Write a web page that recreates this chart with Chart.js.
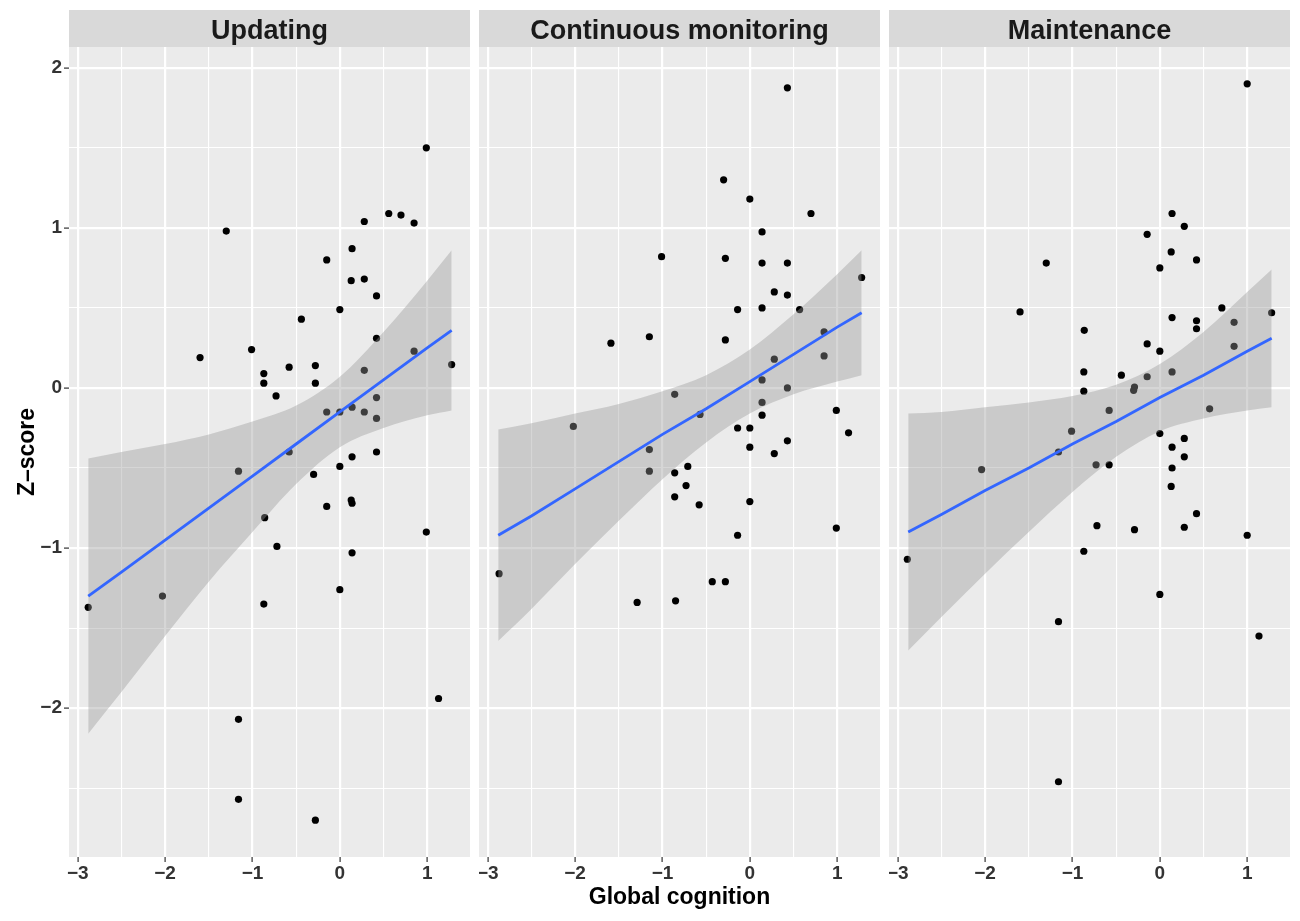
<!DOCTYPE html>
<html>
<head>
<meta charset="utf-8">
<title>Z-score by Global cognition</title>
<script src="https://cdn.jsdelivr.net/npm/chart.js@4.4.1/dist/chart.umd.min.js"></script>
<style>
  body { margin: 0; background: #fff; }
  #figure { position: relative; width: 1300px; height: 921px; }
  #figure canvas { position: absolute; top: 0; }
</style>
</head>
<body>
<div id="figure">
  <canvas id="panel1" width="470" height="921" style="left:0px"></canvas>
  <canvas id="panel2" width="401" height="921" style="left:479px"></canvas>
  <canvas id="panel3" width="401" height="921" style="left:889px"></canvas>
</div>
<script>
// Facet titles and axis ticks
const panelTitles = ['Updating', 'Continuous monitoring', 'Maintenance'];
const xMajorTicks = [-3, -2, -1, 0, 1];
const xMinorTicks = [-2.5, -1.5, -0.5, 0.5];
const yMajorTicks = [-2, -1, 0, 1, 2];
const yMinorTicks = [-2.5, -1.5, -0.5, 0.5, 1.5];
const xLimits = [-3.1, 1.49];
const yLimits = [-2.93, 2.13];

// Updating: global cognition (x) vs z-score (y)
const updatingX = [0.99, -1.30, 0.56, 0.70, 0.85, 0.28, 0.14, -0.15, 0.13, 0.28, 0.42, 0.00, -0.44, 0.42, -1.60, -1.01, 0.85, 1.28,
  -0.87, -0.87, -0.58, -0.28, -0.28, 0.28, -0.73, 0.42, -0.15, 0.00, 0.14, 0.28, 0.42, -0.58, 0.14, 0.42, -1.16, -0.30, 0.00,
  -0.15, 0.13, 0.14, -0.86, 0.99, -0.72, 0.14, 0.00, -2.03, -2.88, -0.87, 1.13, -1.16, -1.16, -0.28];
const updatingY = [1.50, 0.98, 1.09, 1.08, 1.03, 1.04, 0.87, 0.80, 0.67, 0.68, 0.575, 0.49, 0.43, 0.31, 0.19, 0.24, 0.23, 0.146,
  0.09, 0.03, 0.13, 0.14, 0.03, 0.11, -0.05, -0.06, -0.15, -0.15, -0.12, -0.15, -0.19, -0.40, -0.43, -0.40, -0.52, -0.54, -0.49,
  -0.74, -0.70, -0.72, -0.81, -0.90, -0.99, -1.03, -1.26, -1.30, -1.37, -1.35, -1.94, -2.07, -2.57, -2.70];

// Continuous monitoring
const monitoringX = [0.43, -0.30, 0.00, 0.70, 0.14, -1.01, -0.28, 0.14, 0.43, 1.28, 0.28, 0.43, -0.14, 0.14, 0.57, 0.85, -1.59,
  -1.15, -0.28, 0.28, 0.85, 0.14, 0.43, -0.86, 0.14, -0.57, 0.99, 0.14, -2.02, -0.14, 0.00, 1.13, 0.43, 0.00, 0.28, -1.15,
  -1.15, -0.86, -0.71, -0.73, -0.86, -0.58, 0.00, -0.14, 0.99, -2.87, -0.43, -0.28, -1.29, -0.85];
const monitoringY = [1.875, 1.30, 1.18, 1.09, 0.975, 0.82, 0.81, 0.78, 0.78, 0.69, 0.60, 0.58, 0.49, 0.50, 0.49, 0.35, 0.28,
  0.32, 0.30, 0.18, 0.20, 0.05, 0.00, -0.04, -0.09, -0.165, -0.14, -0.17, -0.24, -0.25, -0.25, -0.28, -0.33, -0.37, -0.41, -0.385,
  -0.52, -0.53, -0.49, -0.61, -0.68, -0.73, -0.71, -0.92, -0.875, -1.16, -1.21, -1.21, -1.34, -1.33];

// Maintenance
const maintenanceX = [1.00, 0.14, 0.28, -0.145, 0.13, 0.42, -1.30, 0.00, 0.71, -1.60, 1.28, 0.14, 0.42, 0.85, 0.42, -0.865,
  -0.145, 0.85, 0.00, -0.87, -0.44, 0.14, -0.145, -0.29, -0.30, -0.87, -0.58, 0.57, -1.01, 0.00, 0.28, 0.14, 0.28, -1.16,
  -2.04, -0.73, -0.58, 0.14, 0.13, 0.42, -0.72, -0.29, 0.28, 1.00, -0.87, -2.89, 0.00, -1.16, 1.135, -1.16];
const maintenanceY = [1.90, 1.09, 1.01, 0.96, 0.85, 0.80, 0.78, 0.75, 0.50, 0.475, 0.47, 0.44, 0.42, 0.41, 0.37, 0.36,
  0.275, 0.26, 0.23, 0.10, 0.08, 0.10, 0.07, 0.006, -0.015, -0.02, -0.14, -0.13, -0.27, -0.285, -0.315, -0.37, -0.43, -0.40,
  -0.51, -0.48, -0.48, -0.50, -0.615, -0.785, -0.86, -0.885, -0.87, -0.92, -1.02, -1.07, -1.29, -1.46, -1.55, -2.46];

// Linear fit and 95% band at these x positions
const fitX = [-2.88, -2.5, -2, -1.5, -1, -0.5, 0, 0.5, 1, 1.28];
const updatingFit = [-1.30, -1.15, -0.95, -0.75, -0.55, -0.35, -0.15, 0.05, 0.25, 0.36];
const updatingUpper = [-0.44, -0.40, -0.35, -0.29, -0.21, -0.11, 0.07, 0.35, 0.67, 0.86];
const updatingLower = [-2.16, -1.90, -1.55, -1.21, -0.90, -0.60, -0.37, -0.25, -0.17, -0.14];
const monitoringFit = [-0.92, -0.80, -0.63, -0.46, -0.29, -0.13, 0.04, 0.21, 0.38, 0.47];
const monitoringUpper = [-0.26, -0.22, -0.16, -0.10, -0.02, 0.08, 0.24, 0.46, 0.71, 0.86];
const monitoringLower = [-1.58, -1.38, -1.10, -0.83, -0.57, -0.34, -0.16, -0.04, 0.04, 0.08];
const maintenanceFit = [-0.90, -0.79, -0.64, -0.50, -0.35, -0.21, -0.06, 0.08, 0.23, 0.31];
const maintenanceUpper = [-0.16, -0.15, -0.12, -0.09, -0.05, 0.02, 0.15, 0.35, 0.60, 0.74];
const maintenanceLower = [-1.64, -1.43, -1.16, -0.90, -0.65, -0.43, -0.27, -0.19, -0.14, -0.12];

const FONT_FAMILY = "'Liberation Sans', Arial, Helvetica, sans-serif";
const STRIP_HEIGHT = 37;

function isMajor(v) {
  return Math.abs(v - Math.round(v)) < 1e-6;
}

function tickLabel(v) {
  return v < 0 ? '\u2212' + Math.abs(v) : String(v);
}

function toPoints(xs, ys) {
  return xs.map((x, i) => ({ x: x, y: ys[i] }));
}

// grey panel + facet strip behind everything (ggplot look)
const panelBackground = {
  id: 'panelBackground',
  beforeDraw(chart) {
    const { ctx, chartArea: a } = chart;
    ctx.save();
    ctx.fillStyle = '#EBEBEB';
    ctx.fillRect(a.left, a.top, a.right - a.left, a.bottom - a.top);
    ctx.fillStyle = '#D9D9D9';
    ctx.fillRect(a.left, a.top - STRIP_HEIGHT, a.right - a.left, STRIP_HEIGHT);
    ctx.restore();
  },
};

function makePanel(canvasId, title, xs, ys, fit, upper, lower, first, xTitle) {
  const ctx = document.getElementById(canvasId).getContext('2d');

  return new Chart(ctx, {
    type: 'scatter',
    data: {
      datasets: [
        {
          // regression line (on top)
          type: 'line',
          data: toPoints(fitX, fit),
          borderColor: '#3366FF',
          borderWidth: 2.8,
          pointRadius: 0,
          fill: false,
        },
        {
          // upper edge of the band, filled down to the lower edge
          type: 'line',
          data: toPoints(fitX, upper),
          borderColor: 'transparent',
          borderWidth: 0,
          pointRadius: 0,
          backgroundColor: 'rgba(153, 153, 153, 0.4)',
          fill: '+1',
          cubicInterpolationMode: 'monotone',
        },
        {
          type: 'line',
          data: toPoints(fitX, lower),
          borderColor: 'transparent',
          borderWidth: 0,
          pointRadius: 0,
          fill: false,
          cubicInterpolationMode: 'monotone',
        },
        {
          data: toPoints(xs, ys),
          backgroundColor: '#000000',
          borderWidth: 0,
          pointRadius: 3.6,
          hoverRadius: 0,
        },
      ],
    },
    options: {
      responsive: false,
      animation: false,
      events: [],
      layout: { autoPadding: false, padding: { top: 10, left: 0, right: 0, bottom: 0 } },
      scales: {
        x: {
          type: 'linear',
          min: xLimits[0],
          max: xLimits[1],
          afterBuildTicks: (scale) => {
            scale.ticks = xMajorTicks.concat(xMinorTicks).sort((a, b) => a - b).map((v) => ({ value: v }));
          },
          afterFit: (scale) => {
            scale.height = 64;
            scale.paddingLeft = 0;
            scale.paddingRight = 0;
          },
          border: { display: false },
          grid: {
            color: '#FFFFFF',
            lineWidth: (c) => (isMajor(c.tick.value) ? 2.2 : 1.1),
            tickColor: (c) => (isMajor(c.tick.value) ? '#333333' : 'rgba(0,0,0,0)'),
            tickWidth: 1.2,
            tickLength: 5,
          },
          ticks: {
            autoSkip: false,
            maxRotation: 0,
            minRotation: 0,
            padding: 0,
            color: '#333333',
            font: { family: FONT_FAMILY, size: 19, weight: 'bold' },
            callback: (v) => (isMajor(v) ? tickLabel(v) : ''),
          },
          title: {
            display: !!xTitle,
            text: xTitle || '',
            color: '#000000',
            padding: { top: 10, bottom: 10 },
            font: { family: FONT_FAMILY, size: 23, weight: 'bold' },
          },
        },
        y: {
          type: 'linear',
          min: yLimits[0],
          max: yLimits[1],
          afterBuildTicks: (scale) => {
            scale.ticks = yMajorTicks.concat(yMinorTicks).sort((a, b) => a - b).map((v) => ({ value: v }));
          },
          afterFit: (scale) => {
            scale.width = first ? 69 : 0;
            scale.paddingTop = 0;
            scale.paddingBottom = 0;
          },
          border: { display: false },
          grid: {
            color: '#FFFFFF',
            lineWidth: (c) => (isMajor(c.tick.value) ? 2.2 : 1.1),
            tickColor: (c) => (isMajor(c.tick.value) ? '#333333' : 'rgba(0,0,0,0)'),
            tickWidth: 1.2,
            tickLength: 5,
            drawTicks: first,
          },
          ticks: {
            display: first,
            autoSkip: false,
            padding: 2,
            color: '#333333',
            font: { family: FONT_FAMILY, size: 19, weight: 'bold' },
            callback: (v) => (isMajor(v) ? tickLabel(v) : ''),
          },
          title: {
            display: first,
            text: 'Z\u2013score',
            color: '#000000',
            padding: { top: 14, bottom: 14 },
            font: { family: FONT_FAMILY, size: 23, weight: 'bold' },
          },
        },
      },
      plugins: {
        legend: { display: false },
        tooltip: { enabled: false },
        title: {
          // facet strip label
          display: true,
          text: title,
          fullSize: false,
          color: '#1A1A1A',
          padding: { top: 8, bottom: 2 },
          font: { family: FONT_FAMILY, size: 27, weight: 'bold', lineHeight: 1 },
        },
      },
    },
    plugins: [panelBackground],
  });
}

makePanel('panel1', panelTitles[0], updatingX, updatingY, updatingFit, updatingUpper, updatingLower, true, null);
makePanel('panel2', panelTitles[1], monitoringX, monitoringY, monitoringFit, monitoringUpper, monitoringLower, false, 'Global cognition');
makePanel('panel3', panelTitles[2], maintenanceX, maintenanceY, maintenanceFit, maintenanceUpper, maintenanceLower, false, null);
</script>
</body>
</html>
